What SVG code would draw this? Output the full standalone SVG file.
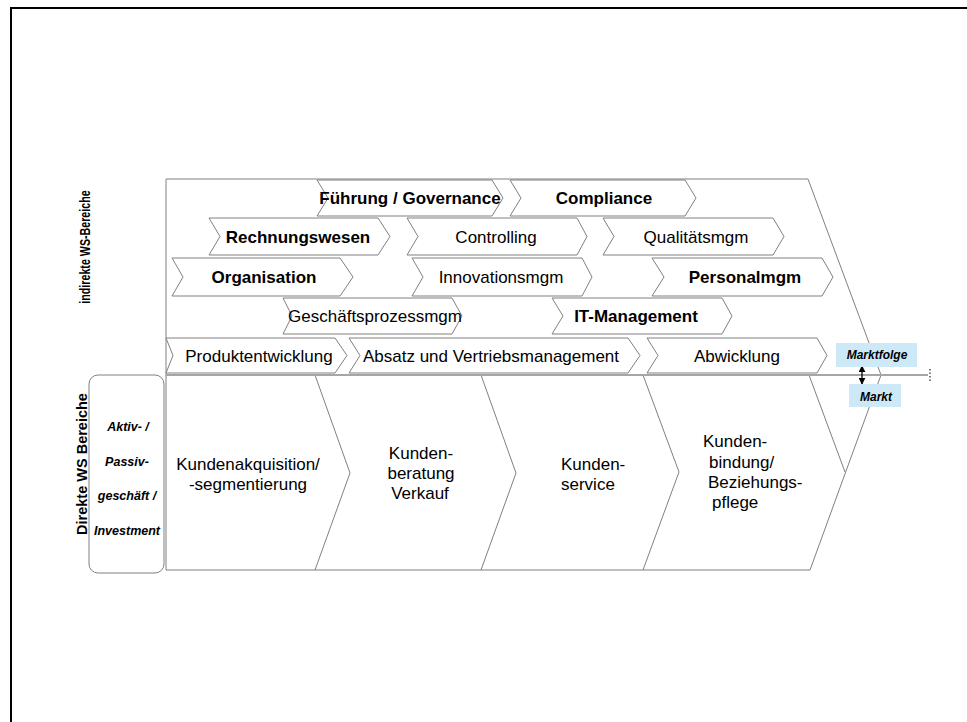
<svg xmlns="http://www.w3.org/2000/svg" width="967" height="722" viewBox="0 0 967 722">
  <style>
    .chev { fill: #ffffff; stroke: #808080; stroke-width: 1; }
    .edge { fill: none; stroke: #808080; stroke-width: 1; }
    .lbl { font-family: "Liberation Sans", Arial, sans-serif; font-size: 17px; fill: #000000; text-anchor: middle; }
    .bold { font-weight: bold; }
    .side { font-family: "Liberation Sans", Arial, sans-serif; font-weight: bold; fill: #000000; text-anchor: middle; }
    .seg { font-family: "Liberation Sans", Arial, sans-serif; font-size: 12.5px; font-weight: bold; font-style: italic; fill: #000000; text-anchor: middle; }
    .tag { fill: #cde9f8; stroke: none; }
    .tagtxt { font-family: "Liberation Sans", Arial, sans-serif; font-size: 12px; font-weight: bold; font-style: italic; fill: #000000; text-anchor: middle; }
  </style>
  <defs>
    <marker id="arrowHead" viewBox="0 0 10 10" refX="9" refY="5" markerUnits="userSpaceOnUse" markerWidth="7" markerHeight="7" orient="auto-start-reverse">
      <path d="M0,0 L10,5 L0,10 Z" fill="#000000"/>
    </marker>
  </defs>

  <rect width="967" height="722" fill="#ffffff"/>
  <!-- page frame -->
  <rect x="11" y="8" width="980" height="740" fill="none" stroke="#000000" stroke-width="2"/>

  <!-- overall value chain outline -->
  <g id="outline">
    <path class="edge" d="M166,179 L808,179 L881,375 L810,570 L166,570 Z"/>
  </g>

  <!-- side labels -->
  <g id="label-indirekt">
    <text class="side" style="font-size:15.5px" transform="translate(90,247) rotate(-90) scale(0.69,1)">indirekte WS-Bereiche</text>
  </g>
  <g id="label-direkt">
    <text class="side" style="font-size:14.5px" transform="translate(87,464) rotate(-90)">Direkte WS Bereiche</text>
  </g>
  <g id="segment-box">
    <rect x="89" y="375" width="75" height="198" rx="9" ry="9" fill="#ffffff" stroke="#808080" stroke-width="1"/>
    <text class="seg" x="128" y="431">Aktiv- /</text>
    <text class="seg" x="127" y="466">Passiv-</text>
    <text class="seg" x="127" y="500">geschäft /</text>
    <text class="seg" x="127" y="535">Investment</text>
  </g>

  <!-- indirect areas -->
  <g id="fuehrung">
    <path class="chev" d="M317,180 L492,180 L503,198 L492,216 L317,216 L328,198 Z"/>
    <text class="lbl bold" x="410" y="204">Führung / Governance</text>
  </g>
  <g id="compliance">
    <path class="chev" d="M510,180 L685,180 L696,198 L685,216 L510,216 L521,198 Z"/>
    <text class="lbl bold" x="604" y="204">Compliance</text>
  </g>
  <g id="rechnungswesen">
    <path class="chev" d="M209,218 L378,218 L390,236.5 L378,255 L209,255 L220,236.5 Z"/>
    <text class="lbl bold" x="298" y="243">Rechnungswesen</text>
  </g>
  <g id="controlling">
    <path class="chev" d="M407,218 L577,218 L587,236.5 L577,255 L407,255 L418,236.5 Z"/>
    <text class="lbl" x="496" y="243">Controlling</text>
  </g>
  <g id="qualitaet">
    <path class="chev" d="M603,218 L773,218 L784,236.5 L773,255 L603,255 L614,236.5 Z"/>
    <text class="lbl" x="696" y="243">Qualitätsmgm</text>
  </g>
  <g id="organisation">
    <path class="chev" d="M172,258 L340,258 L353,277 L340,296 L172,296 L183,277 Z"/>
    <text class="lbl bold" x="264" y="283">Organisation</text>
  </g>
  <g id="innovation">
    <path class="chev" d="M412,258 L582,258 L592,277 L582,296 L412,296 L423,277 Z"/>
    <text class="lbl" x="501" y="283">Innovationsmgm</text>
  </g>
  <g id="personal">
    <path class="chev" d="M652,258 L822,258 L833,277 L822,296 L652,296 L664,277 Z"/>
    <text class="lbl bold" x="745" y="283">Personalmgm</text>
  </g>
  <g id="geschaeftsprozess">
    <path class="chev" d="M283,298 L452,298 L462,316 L452,334 L283,334 L292,316 Z"/>
    <text class="lbl" x="375" y="322">Geschäftsprozessmgm</text>
  </g>
  <g id="it-management">
    <path class="chev" d="M552,298 L722,298 L732,316 L722,334 L552,334 L563,316 Z"/>
    <text class="lbl bold" x="636" y="322">IT-Management</text>
  </g>
  <g id="produktentwicklung">
    <path class="chev" d="M166,338 L335,338 L347,355.5 L335,373 L166,373 L173,355.5 Z"/>
    <text class="lbl" x="259" y="362">Produktentwicklung</text>
  </g>
  <g id="absatz">
    <path class="chev" d="M349,338 L628,338 L640,355.5 L628,373 L349,373 L360,355.5 Z"/>
    <text class="lbl" x="491" y="362">Absatz und Vertriebsmanagement</text>
  </g>
  <g id="abwicklung">
    <path class="chev" d="M647,338 L817,338 L827,355.5 L817,373 L647,373 L658,355.5 Z"/>
    <text class="lbl" x="737" y="362">Abwicklung</text>
  </g>

  <!-- direct process steps -->
  <g id="kundenakquisition">
    <path class="edge" d="M315,375 L350,473 L315,570"/>
    <text class="lbl" x="248" y="470">Kundenakquisition/</text>
    <text class="lbl" x="248" y="490">-segmentierung</text>
  </g>
  <g id="kundenberatung">
    <path class="edge" d="M481,375 L516,473 L481,570"/>
    <text class="lbl" x="421" y="459">Kunden-</text>
    <text class="lbl" x="421" y="479">beratung</text>
    <text class="lbl" x="420" y="499">Verkauf</text>
  </g>
  <g id="kundenservice">
    <path class="edge" d="M643,375 L679,472 L643,570"/>
    <text class="lbl" x="561" y="470" style="text-anchor:start">Kunden-</text>
    <text class="lbl" x="561" y="490" style="text-anchor:start">service</text>
  </g>
  <g id="kundenbindung">
    <path class="edge" d="M809,375 L845,472"/>
    <text class="lbl" x="703" y="447" style="text-anchor:start">Kunden-</text>
    <text class="lbl" x="709" y="468" style="text-anchor:start">bindung/</text>
    <text class="lbl" x="708" y="488" style="text-anchor:start">Beziehungs-</text>
    <text class="lbl" x="712" y="508" style="text-anchor:start">pflege</text>
  </g>

  <!-- connectors -->
  <g id="connectors">
    <line x1="166" y1="375" x2="928" y2="375" stroke="#a6a6a6" stroke-width="2"/>
    <line x1="930" y1="369" x2="930" y2="381" stroke="#000000" stroke-width="1" stroke-dasharray="1.5,2"/>
    <line x1="862" y1="366" x2="862" y2="384" stroke="#000000" stroke-width="1.3" marker-start="url(#arrowHead)" marker-end="url(#arrowHead)"/>
  </g>

  <!-- market side tags -->
  <g id="marktfolge">
    <rect class="tag" x="836" y="343" width="81" height="24"/>
    <text class="tagtxt" x="877" y="359">Marktfolge</text>
  </g>
  <g id="markt">
    <rect class="tag" x="849" y="384" width="52" height="23"/>
    <text class="tagtxt" x="876" y="401">Markt</text>
  </g>
</svg>
